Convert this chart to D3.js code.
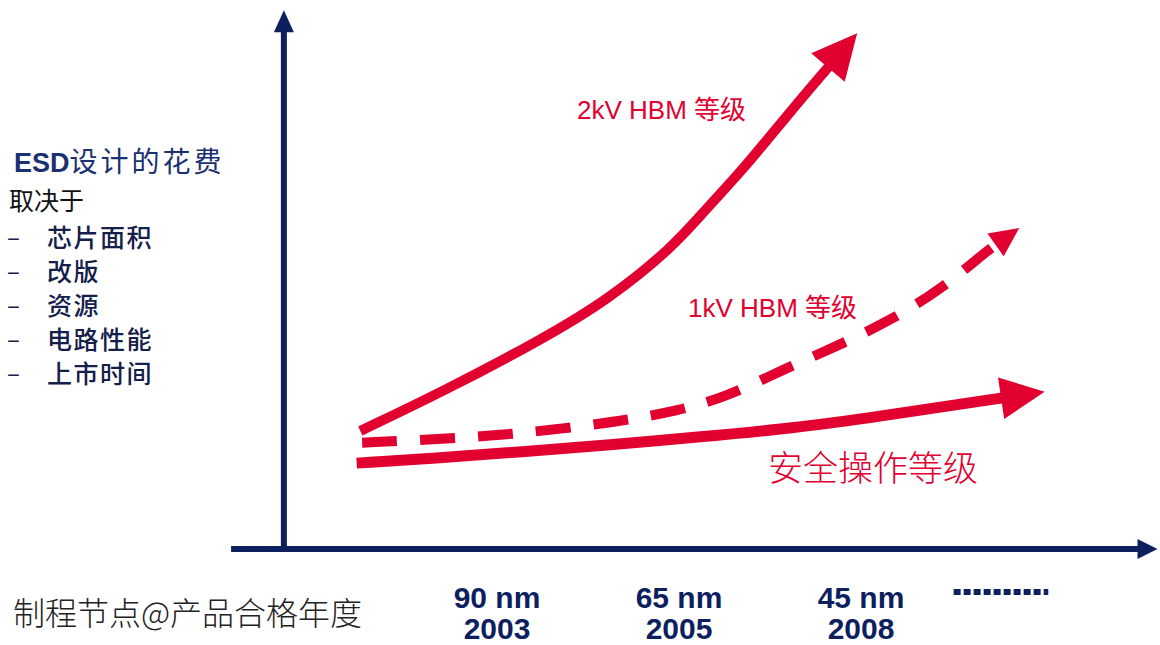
<!DOCTYPE html>
<html>
<head>
<meta charset="utf-8">
<script src="https://cdn.jsdelivr.net/npm/d3@7"></script>
<style>
  html, body { margin: 0; padding: 0; background: #fff; }
  svg { display: block; }
</style>
</head>
<body>
<svg id="chart" width="1160" height="645"></svg>
<script>
// Process nodes along the horizontal axis
const nodeIndex = [1, 2, 3];
const nodeLabels = ["90 nm", "65 nm", "45 nm"];
const nodeYears = ["2003", "2005", "2008"];

// Cost curves: [node position, relative cost]; last point is the arrow tip
const hbm2kV = [[0.26, 2.20], [0.70, 2.91], [1.25, 3.89], [1.62, 4.64], [1.98, 5.63],
                [2.16, 6.34], [2.35, 7.02], [2.62, 8.14], [2.99, 9.61]];
const hbm1kV = [[0.27, 1.98], [0.70, 2.05], [1.03, 2.12], [1.36, 2.24], [1.69, 2.38],
                [2.00, 2.57], [2.27, 2.83], [2.58, 3.34], [2.88, 3.78], [3.18, 4.27],
                [3.46, 4.86], [3.69, 5.52], [3.88, 5.98]];
const safeLevel = [[0.24, 1.60], [0.70, 1.70], [1.14, 1.81], [1.63, 1.94], [2.13, 2.09],
                   [2.62, 2.24], [3.17, 2.50], [3.50, 2.67], [4.02, 2.93]];

// Text blocks
const titleLatin = "ESD";
const titleCjk = "设计的花费";
const dependsOn = "取决于";
const factors = ["芯片面积", "改版", "资源", "电路性能", "上市时间"];
const xAxisTitle = "制程节点@产品合格年度";
const curveLabels = ["2kV HBM 等级", "1kV HBM 等级", "安全操作等级"];

const navy = "#0d1f5e";
const red = "#e1002f";

const svg = d3.select("#chart");
const x = d3.scaleLinear().domain([0, 4]).range([313, 1041]);
const y = d3.scaleLinear().domain([0, 10]).range([549, 12.3]);

// ---- axes with arrowheads ----
function straightArrow(x1, y1, x2, y2, width, headLen, headHalf, color) {
  const dx = x2 - x1, dy = y2 - y1, L = Math.hypot(dx, dy);
  const ux = dx / L, uy = dy / L;
  const bx = x2 - ux * headLen, by = y2 - uy * headLen;
  svg.append("line")
    .attr("x1", x1).attr("y1", y1).attr("x2", bx + ux).attr("y2", by + uy)
    .attr("stroke", color).attr("stroke-width", width);
  svg.append("path")
    .attr("d", `M${x2},${y2}L${bx - uy * headHalf},${by + ux * headHalf}L${bx + uy * headHalf},${by - ux * headHalf}Z`)
    .attr("fill", color);
}
const axisX0 = x(-0.16);
straightArrow(axisX0, y(-0.02), axisX0, y(10.04), 6, 22, 10, navy);
straightArrow(x(-0.45), y(0), x(4.64), y(0), 6, 20, 10, navy);

// ---- curved arrows ----
function curvedArrow(data, opts) {
  const pts = data.map(d => [x(d[0]), y(d[1])]);
  const tip = pts[pts.length - 1];
  const prev = pts[pts.length - 2];
  const dx = tip[0] - prev[0], dy = tip[1] - prev[1], L = Math.hypot(dx, dy);
  const ux = dx / L, uy = dy / L;
  const base = [tip[0] - ux * opts.headLen, tip[1] - uy * opts.headLen];
  const linePts = pts.slice(0, -1).concat([[base[0] + ux * 2, base[1] + uy * 2]]);
  const path = svg.append("path")
    .attr("d", d3.line().curve(d3.curveBasis)(linePts))
    .attr("fill", "none")
    .attr("stroke", red)
    .attr("stroke-width", opts.width);
  if (opts.dash) path.attr("stroke-dasharray", opts.dash);
  const h = opts.headHalf;
  svg.append("path")
    .attr("d", `M${tip[0]},${tip[1]}L${base[0] - uy * h},${base[1] + ux * h}L${base[0] + uy * h},${base[1] - ux * h}Z`)
    .attr("fill", red);
}
curvedArrow(safeLevel, { width: 11, headLen: 44, headHalf: 21 });
curvedArrow(hbm1kV, { width: 10, headLen: 29, headHalf: 14, dash: "35 23" });
curvedArrow(hbm2kV, { width: 10, headLen: 45, headHalf: 22 });

// ---- curve labels ----
const sansFont = "Arial, 'Liberation Sans', 'Noto Sans CJK SC', sans-serif";
svg.append("text").attr("x", 577).attr("y", 119)
  .attr("font-family", sansFont).attr("font-size", 26).attr("fill", red)
  .text(curveLabels[0]);
svg.append("text").attr("x", 688).attr("y", 317)
  .attr("font-family", sansFont).attr("font-size", 26).attr("fill", red)
  .text(curveLabels[1]);
svg.append("text").attr("x", 768).attr("y", 481)
  .attr("font-family", "'Noto Sans CJK SC', sans-serif").attr("font-size", 35)
  .attr("font-weight", 300).attr("fill", red)
  .text(curveLabels[2]);

// ---- node tick labels ----
const tickFont = "'Liberation Sans Narrow', 'Arial Narrow', 'Liberation Sans', sans-serif";
const ticks = svg.append("g").attr("font-family", tickFont).attr("font-weight", "bold")
  .attr("font-size", 30).attr("fill", navy).attr("text-anchor", "middle");
ticks.selectAll("text.nm").data(nodeIndex).join("text")
  .attr("class", "nm").attr("x", d => x(d) + 2).attr("y", 608)
  .text((d, i) => nodeLabels[i]);
ticks.selectAll("text.yr").data(nodeIndex).join("text")
  .attr("class", "yr").attr("x", d => x(d) + 2).attr("y", 639)
  .text((d, i) => nodeYears[i]);
// continuation marker after the last node
svg.append("line")
  .attr("x1", x(3.52)).attr("x2", x(4.04)).attr("y1", 592).attr("y2", 592)
  .attr("stroke", navy).attr("stroke-width", 6).attr("stroke-dasharray", "7 3");

// ---- axis title ----
svg.append("text").attr("x", 13).attr("y", 625)
  .attr("font-family", "'Noto Sans CJK SC', sans-serif").attr("font-size", 32)
  .attr("font-weight", 300).attr("fill", "#222")
  .text(xAxisTitle);

// ---- left description ----
const cjkFont = "'Noto Sans CJK SC', sans-serif";
const title = svg.append("text").attr("x", 14).attr("y", 172).attr("fill", "#1b3070");
title.append("tspan").attr("font-family", "Arial, 'Liberation Sans', sans-serif")
  .attr("font-weight", "bold").attr("font-size", 27).text(titleLatin);
title.append("tspan").attr("font-family", cjkFont).attr("font-size", 28)
  .attr("letter-spacing", 3).text(titleCjk);

svg.append("text").attr("x", 9).attr("y", 210)
  .attr("font-family", cjkFont).attr("font-size", 25).attr("fill", "#111")
  .text(dependsOn);

const items = svg.append("g").attr("font-family", cjkFont).attr("fill", "#14204a");
items.selectAll("text.dash").data(factors).join("text")
  .attr("class", "dash").attr("x", 7).attr("y", (d, i) => 246 + i * 34)
  .attr("font-size", 24).text("–");
items.selectAll("text.item").data(factors).join("text")
  .attr("class", "item").attr("x", 47).attr("y", (d, i) => 247 + i * 34)
  .attr("font-size", 25).attr("font-weight", 500).attr("letter-spacing", 1.5)
  .text(d => d);
</script>
</body>
</html>
